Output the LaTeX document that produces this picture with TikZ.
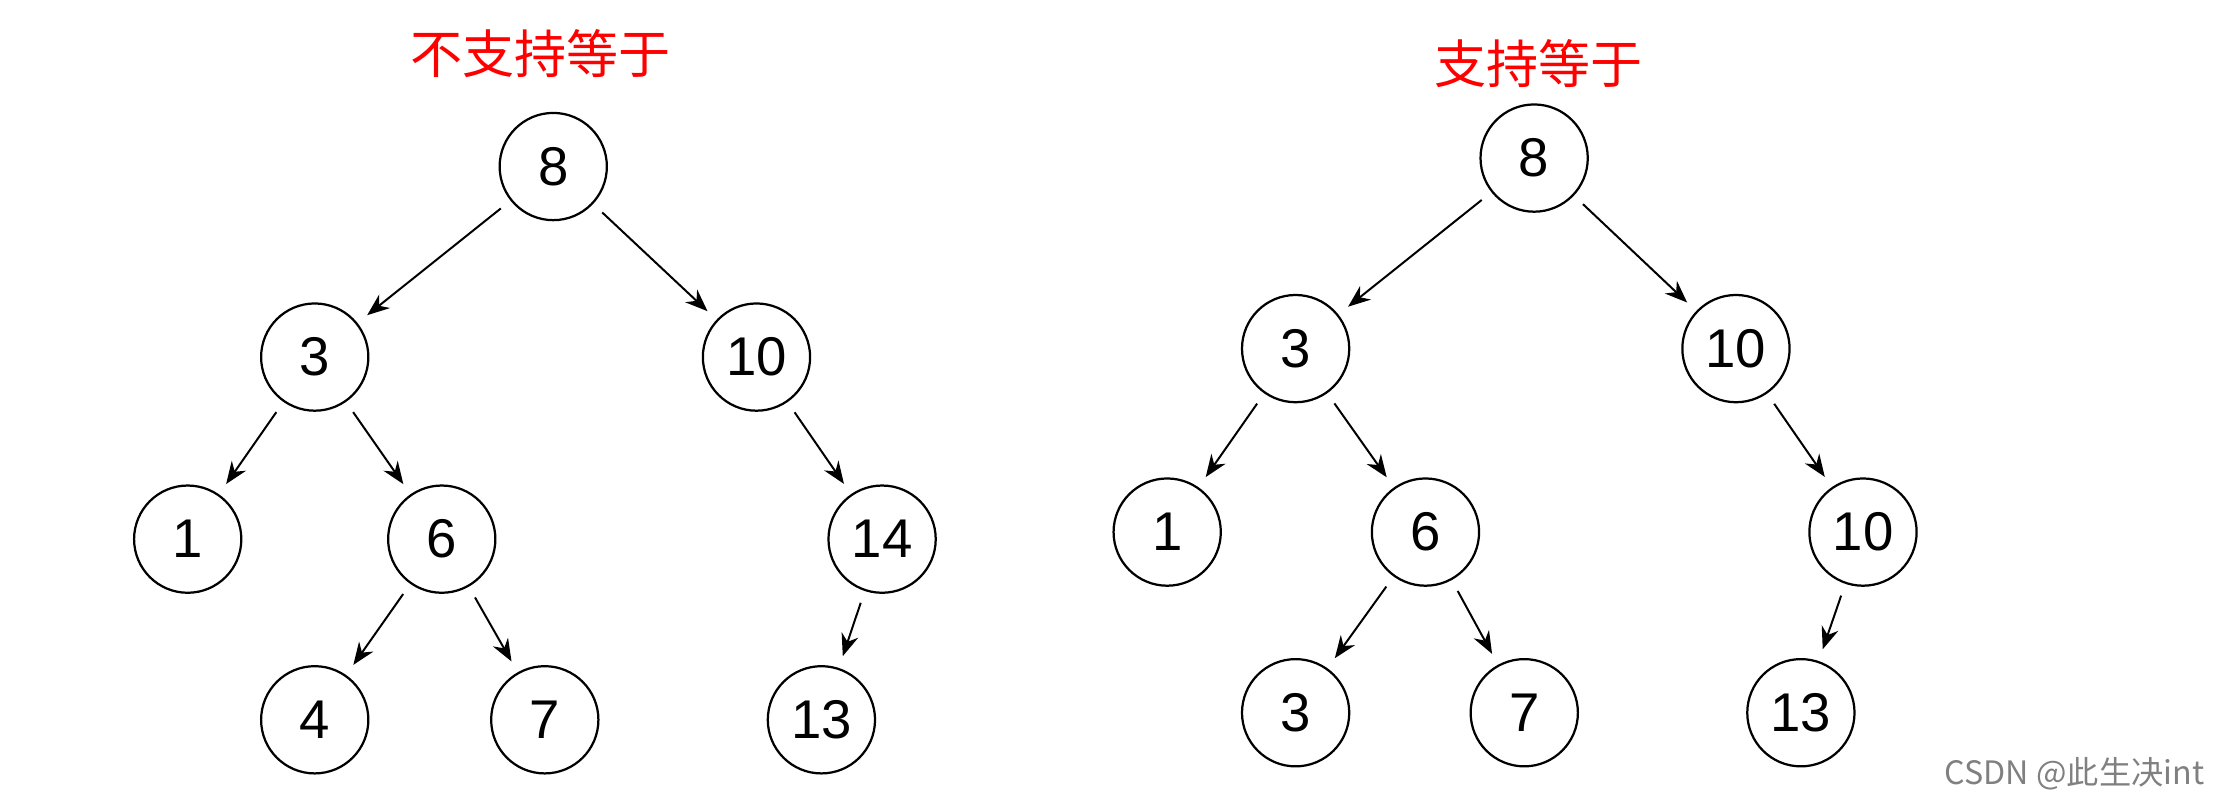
\documentclass[tikz,border=0pt]{standalone}
\usepackage{fontspec}
\setmainfont{Liberation Sans}
\newfontfamily\cjk{Noto Sans CJK SC}
\usetikzlibrary{arrows.meta}
\begin{document}
\begin{tikzpicture}[x=0.02cm,y=-0.02cm,
  knot/.style={draw,circle,line width=0.9pt,minimum size=1.52cm,inner sep=0pt,font=\fontsize{22}{22}\selectfont},
  edge/.style={-{Stealth[length=9pt,width=7pt]},line width=0.8pt,shorten <=5pt,shorten >=5pt},
  title/.style={text=red,font=\cjk\fontsize{21}{21}\selectfont}]
\useasboundingbox (0,0) rectangle (1568,575);
% left tree
\node [title] (tl) at (383,38) {不支持等于};
\node [knot] (a8) at (392,118) {8};
\node [knot] (a3) at (223,253) {3};
\node [knot] (a10) at (536,253) {10};
\node [knot] (a1) at (133,382) {1};
\node [knot] (a6) at (313,382) {6};
\node [knot] (a14) at (625,382) {14};
\node [knot] (a4) at (223,510) {4};
\node [knot] (a7) at (386,510) {7};
\node [knot] (a13) at (582,510) {13};
\draw [edge] (a8) -- (a3);
\draw [edge] (a8) -- (a10);
\draw [edge] (a3) -- (a1);
\draw [edge] (a3) -- (a6);
\draw [edge] (a10) -- (a14);
\draw [edge] (a6) -- (a4);
\draw [edge] (a6) -- (a7);
\draw [edge] (a14) -- (a13);
% right tree
\node [title] (tr) at (1090,45) {支持等于};
\node [knot] (b8) at (1087,112) {8};
\node [knot] (b3) at (918,247) {3};
\node [knot] (b10) at (1230,247) {10};
\node [knot] (b1) at (827,377) {1};
\node [knot] (b6) at (1010,377) {6};
\node [knot] (b10b) at (1320,377) {10};
\node [knot] (b3b) at (918,505) {3};
\node [knot] (b7) at (1080,505) {7};
\node [knot] (b13) at (1276,505) {13};
\draw [edge] (b8) -- (b3);
\draw [edge] (b8) -- (b10);
\draw [edge] (b3) -- (b1);
\draw [edge] (b3) -- (b6);
\draw [edge] (b10) -- (b10b);
\draw [edge] (b6) -- (b3b);
\draw [edge] (b6) -- (b7);
\draw [edge] (b10b) -- (b13);
\node [text=gray,font=\cjk\fontsize{13}{13}\selectfont,anchor=east] (wm) at (1568,548) {CSDN @此生决int};
\end{tikzpicture}
\end{document}
